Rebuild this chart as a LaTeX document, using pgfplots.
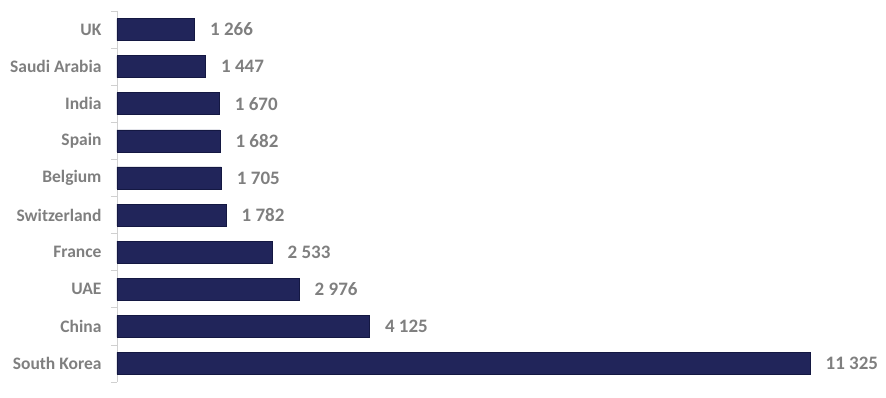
\documentclass[border=0pt]{standalone}
\usepackage{pgfplots}
\pgfplotsset{compat=1.18}
\usepackage{fontspec}
\setmainfont{Carlito}
\definecolor{barfill}{RGB}{33,37,90}
\definecolor{bardraw}{RGB}{20,24,66}
\definecolor{lblgray}{RGB}{127,127,127}
\definecolor{axgray}{RGB}{208,208,208}
\begin{document}
\begin{tikzpicture}
\begin{axis}[
  scale only axis,
  width=693pt, height=371pt,
  xbar, bar width=22pt,
  y dir=reverse,
  xmin=0, xmax=11325,
  ymin=-0.5, ymax=9.5,
  axis x line=none,
  axis y line*=left,
  axis line style={axgray, line width=0.8pt, -},
  ytick={0,...,9},
  yticklabels={UK,Saudi Arabia,India,Spain,Belgium,Switzerland,France,UAE,China,South Korea},
  major tick length=0pt,
  minor ytick={-0.5,0.5,...,9.5},
  minor tick length=6pt,
  tick align=outside,
  minor tick style={axgray, line width=0.8pt},
  yticklabel style={font=\bfseries\fontsize{17.5}{20}\selectfont, text=lblgray, xshift=-12pt},
  clip=false,
  nodes near coords={\pgfmathprintnumber[1000 sep={\ },assume math mode=true,fixed,precision=0]{\pgfplotspointmeta}},
  nodes near coords style={font=\bfseries\fontsize{19}{22}\selectfont, text=lblgray, anchor=west, xshift=12pt},
]
\addplot[fill=barfill, draw=bardraw, line width=0.6pt] coordinates {
(1266,0) (1447,1) (1670,2) (1682,3) (1705,4) (1782,5) (2533,6) (2976,7) (4125,8) (11325,9)
};
\end{axis}
\pgfresetboundingbox
\path (-117pt,-16pt) rectangle (769pt,382pt);
\end{tikzpicture}
\end{document}
